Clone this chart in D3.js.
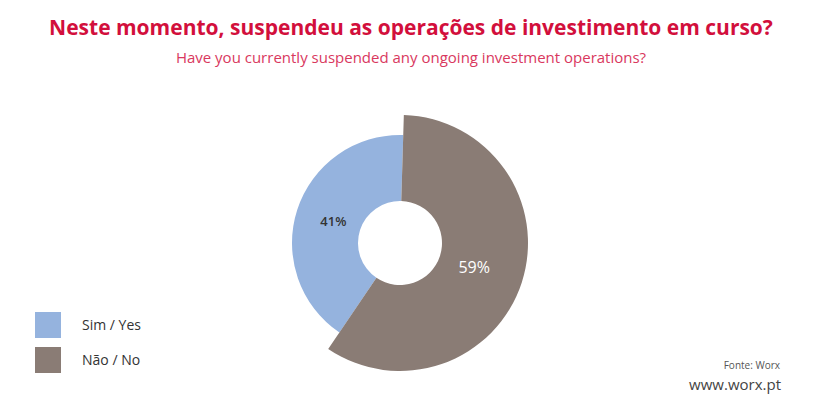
<!DOCTYPE html><html><head><meta charset="utf-8"><script src="https://cdn.jsdelivr.net/npm/d3@7"></script>
<style>body{margin:0;background:#fff}</style></head><body><svg id="c" width="822" height="406"></svg>
<script>
const categories=["Sim / Yes","Não / No"];
const values=[41,59];
const labels=["41%","59%"];
const colors=["#95b3de","#8a7c75"];
const outerR=[108,128];
const svg=d3.select("#c");
const F="'Open Sans', sans-serif";
svg.append("text").attr("x",411).attr("y",35).attr("text-anchor","middle").attr("font-family",F).attr("font-weight","bold").attr("font-size",21).attr("fill","#d20f3c").text("Neste momento, suspendeu as operações de investimento em curso?");
svg.append("text").attr("x",411).attr("y",63).attr("text-anchor","middle").attr("font-family",F).attr("font-size",15).attr("fill","#d9385e").text("Have you currently suspended any ongoing investment operations?");
const cx=400,cy=243;
const pie=d3.pie().sort(null).startAngle(0.03-2*Math.PI*0.41).endAngle(0.03+2*Math.PI*0.59);
const arcs=pie(values);
const g=svg.append("g").attr("transform",`translate(${cx},${cy})`);
const labR=[70,78];
arcs.forEach((a,i)=>{
  const arc=d3.arc().innerRadius(42).outerRadius(outerR[i]);
  g.append("path").attr("d",arc(a)).attr("fill",colors[i]);
  const c=d3.arc().innerRadius(labR[i]).outerRadius(labR[i]).centroid(a);
  g.append("text").attr("x",c[0]).attr("y",c[1]).attr("dy","0.35em").attr("text-anchor","middle").attr("font-family",F).attr("font-weight",i?"normal":"600").attr("font-size",i?16:13).attr("fill",i?"#fff":"#333").text(labels[i]);
});
categories.forEach((c,i)=>{
  svg.append("rect").attr("x",35).attr("y",312+i*35).attr("width",26).attr("height",26).attr("fill",colors[i]);
  svg.append("text").attr("x",82).attr("y",330+i*35).attr("font-family",F).attr("font-size",14).attr("fill","#333").text(c);
});
svg.append("text").attr("x",780).attr("y",369).attr("text-anchor","end").attr("font-family",F).attr("font-size",10).attr("fill","#555").text("Fonte: Worx");
svg.append("text").attr("x",781).attr("y",390).attr("text-anchor","end").attr("font-family",F).attr("font-size",15).attr("fill","#444").text("www.worx.pt");
</script></body></html>
